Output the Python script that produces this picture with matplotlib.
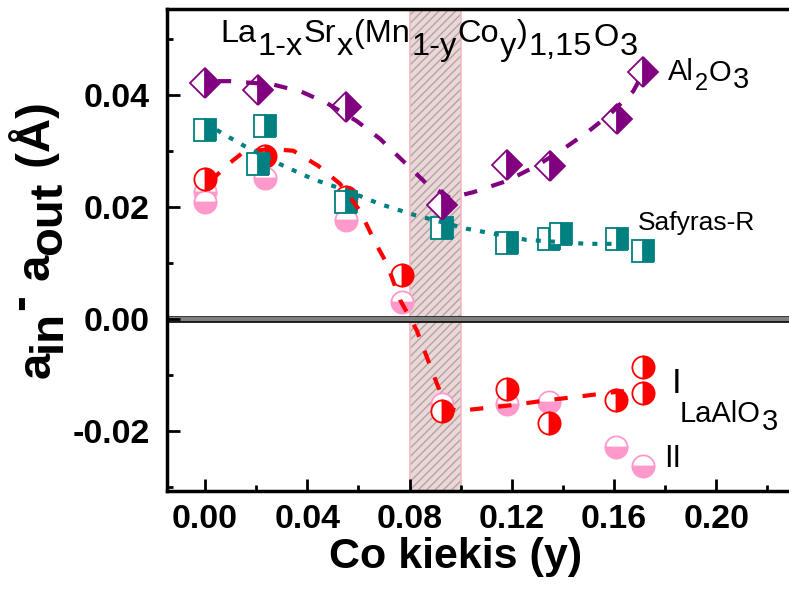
import numpy as np
import matplotlib
matplotlib.use("Agg")
import matplotlib.pyplot as plt
from matplotlib.ticker import MultipleLocator, FormatStrFormatter

plt.rcParams['font.family'] = ['Liberation Sans', 'DejaVu Sans']
plt.rcParams['font.weight'] = 'bold'
plt.rcParams['axes.unicode_minus'] = False

# ---- measured lattice difference a_in - a_out (Angstrom) vs Co content y ----
al2o3_x = [0.0, 0.0208, 0.055, 0.0927, 0.118, 0.1349, 0.161, 0.1714]
al2o3_y = [0.0421, 0.0409, 0.0378, 0.0204, 0.0274, 0.0273, 0.0356, 0.0441]

safyras_x = [0.0, 0.0235, 0.0208, 0.055, 0.0927, 0.118, 0.1345, 0.1391, 0.161, 0.1714]
safyras_y = [0.0337, 0.0344, 0.0276, 0.0209, 0.0163, 0.0136, 0.0142, 0.0152, 0.0142, 0.0122]

lao1_x = [0.0, 0.0235, 0.055, 0.0769, 0.0928, 0.118, 0.1345, 0.1606, 0.1714, 0.1714]
lao1_y = [0.0249, 0.0291, 0.0217, 0.0078, -0.0164, -0.0125, -0.0185, -0.0144, -0.0085, -0.0132]

lao2_x = [0.0, 0.0, 0.0235, 0.055, 0.0769, 0.0927, 0.118, 0.1345, 0.1606, 0.1714]
lao2_y = [0.0226, 0.0208, 0.0252, 0.0176, 0.0031, -0.0151, -0.0152, -0.0148, -0.0229, -0.0262]

# ---- guide-to-the-eye trend curves ----
al2o3_trend_x = [0.005, 0.0098, 0.0266, 0.0378, 0.0476, 0.0593, 0.0685, 0.0774, 0.0867,
                 0.0958, 0.1049, 0.118, 0.1297, 0.1401, 0.1493, 0.1584, 0.1675, 0.1713]
al2o3_trend_y = [0.0424, 0.0424, 0.0418, 0.0405, 0.0385, 0.0353, 0.0321, 0.0282, 0.0241,
                 0.0216, 0.0226, 0.0246, 0.0273, 0.0303, 0.0332, 0.0365, 0.0406, 0.0438]

safyras_trend_x = [0.0046, 0.0098, 0.0163, 0.0293, 0.0424, 0.0554, 0.0684, 0.0815,
                   0.1023, 0.1258, 0.1493, 0.1662]
safyras_trend_y = [0.0337, 0.0323, 0.0306, 0.0276, 0.0249, 0.0229, 0.0205, 0.0186,
                   0.0161, 0.0141, 0.0134, 0.0134]

lao_trend_x = [0.002, 0.0091, 0.0149, 0.0250, 0.0345, 0.0443, 0.0528, 0.0606, 0.0665,
               0.0711, 0.0763, 0.0828, 0.0867, 0.0906, 0.0945, 0.0990, 0.1069, 0.1193,
               0.1336, 0.1467, 0.1571, 0.1688]
lao_trend_y = [0.0245, 0.0276, 0.0297, 0.0303, 0.0300, 0.0273, 0.0241, 0.0193, 0.0137,
               0.0099, 0.0034, -0.0020, -0.0067, -0.0114, -0.0158, -0.0164, -0.0160, -0.0154,
               -0.0145, -0.0138, -0.0132, -0.0126]

band = (0.08, 0.10)

PURPLE = '#800080'
TEAL = '#008080'
RED = '#ff0000'
PINK = '#ff99cc'

W, H = 789, 592
fig = plt.figure(figsize=(W / 100, H / 100), dpi=100)
ax = fig.add_axes([166.5 / W, (H - 491) / H, (792 - 166.5) / W, (491 - 8.5) / H])

# highlighted composition window
ax.axvspan(*band, facecolor='#ead8d8', edgecolor='#b3a3a3', hatch='////',
           linewidth=0, zorder=0)
ax.axvspan(*band, facecolor='none', edgecolor='#f4b8c2', linewidth=1.2, zorder=0.5)

# zero reference line
ax.axhline(0, color='black', lw=4.8, zorder=1)
ax.axhline(0, color='#7f7f7f', lw=3.2, zorder=1.1)

mk = dict(linestyle='none', markeredgewidth=1.3, markerfacecoloralt='white')
ax.plot(lao2_x, lao2_y, marker='o', ms=16, color=PINK, mfc=PINK, mec=PINK,
        fillstyle='bottom', zorder=3, **mk)
ax.plot(lao1_x, lao1_y, marker='o', ms=16, color=RED, mfc=RED, mec=RED,
        fillstyle='right', zorder=3.1, **mk)
ax.plot(safyras_x, safyras_y, marker='s', ms=15.5, color=TEAL, mfc=TEAL, mec=TEAL,
        fillstyle='right', zorder=3.2, **mk)
ax.plot(al2o3_x, al2o3_y, marker='D', ms=15, color=PURPLE, mfc=PURPLE, mec=PURPLE,
        fillstyle='right', zorder=3.3, **mk)

ax.plot(lao_trend_x, lao_trend_y, color=RED, lw=3, dashes=(3.2, 3.6), zorder=4)
ax.plot(safyras_trend_x, safyras_trend_y, color=TEAL, lw=3, dashes=(1.2, 2.2), zorder=4)
ax.plot(al2o3_trend_x, al2o3_trend_y, color=PURPLE, lw=3, dashes=(3.2, 3.6), zorder=4)

ax.set_xlim(-0.01506, 0.2296)
ax.set_ylim(-0.03066, 0.05535)
ax.xaxis.set_major_locator(MultipleLocator(0.04))
ax.xaxis.set_minor_locator(MultipleLocator(0.02))
ax.yaxis.set_major_locator(MultipleLocator(0.02))
ax.yaxis.set_minor_locator(MultipleLocator(0.01))
ax.xaxis.set_major_formatter(FormatStrFormatter('%.2f'))
ax.yaxis.set_major_formatter(FormatStrFormatter('%.2f'))
ax.tick_params(which='both', direction='in', top=False, right=False, width=2)
ax.tick_params(which='major', length=9, labelsize=24.5)
ax.tick_params(axis='y', which='major', pad=12)
ax.tick_params(axis='x', which='major', pad=9)
ax.tick_params(which='minor', length=4.5)
for s in ax.spines.values():
    s.set_linewidth(2.5)

fig.text(456 / W, 1 - 557 / H, 'Co kiekis (y)', fontsize=31, fontweight='bold',
         ha='center', va='center')

renderer = fig.canvas.get_renderer()


def chained(pieces, x0, gap=1.0, weight='normal'):
    """Lay text pieces left to right, each on its own baseline (pixels from top)."""
    x = x0
    for s, base, fs in pieces:
        t = fig.text(x / W, 1 - base / H, s, fontsize=fs, fontweight=weight,
                     ha='left', va='baseline')
        x = t.get_window_extent(renderer).x1 + gap


def chained_vertical(pieces, y0, gap=0.0, weight='bold'):
    """Same as chained() but rotated 90 degrees, running bottom to top.
    Each piece gives its baseline as an x position in pixels."""
    y = y0
    for s, base, fs in pieces:
        t = fig.text(base / W, 1 - y / H, s, fontsize=fs, fontweight=weight,
                     rotation=90, rotation_mode='anchor', ha='left', va='baseline')
        y = H - t.get_window_extent(renderer).y1 - gap


# y-axis title: a_in - a_out (Å), subscripts kept at full size
chained_vertical([('a', 50, 34), ('in', 61, 34), ('-', 33, 34), (' a', 50, 34),
                  ('out', 61, 34), (' (Å)', 50, 34)], 378)

chained([('La', 42, 23.4), ('1-x', 55, 23.4), ('Sr', 42, 23.4), ('x', 55, 23.4),
         ('(Mn', 42, 23.4), ('1-y', 55, 23.4), ('Co', 42, 23.4), ('y', 55, 23.4),
         (')', 42, 23.4), ('1,15', 55, 23.4), ('O', 46, 23.4), ('3', 55, 23.4)], 220)
chained([('Al', 80, 21), ('2', 90, 17), ('O', 81, 21), ('3', 88, 21)], 668)
chained([('LaAlO', 422, 21), ('3', 430, 21)], 680)
fig.text(638 / W, 1 - 230 / H, 'Safyras-R', fontsize=19, fontweight='normal',
         ha='left', va='baseline')
fig.text(672 / W, 1 - 393 / H, 'I', fontsize=25, fontweight='normal',
         ha='left', va='baseline')
fig.text(664 / W, 1 - 467 / H, 'II', fontsize=22, fontweight='normal',
         ha='left', va='baseline')

fig.savefig('out.png', dpi=100)
